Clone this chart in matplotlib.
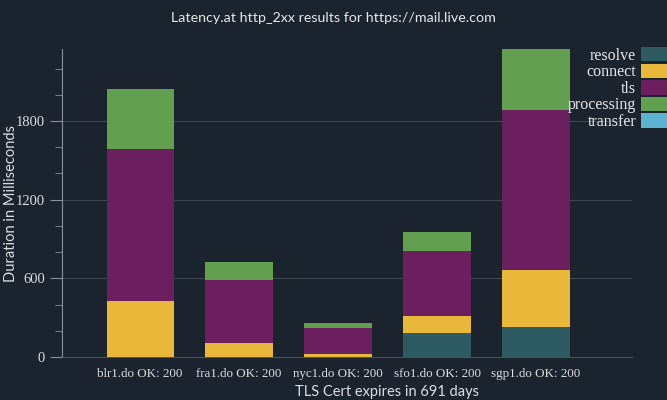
import matplotlib.pyplot as plt
from matplotlib.ticker import MultipleLocator

hosts = ["blr1.do OK: 200", "fra1.do OK: 200", "nyc1.do OK: 200",
         "sfo1.do OK: 200", "sgp1.do OK: 200"]
resolve = [0, 0, 0, 183, 229]
connect = [427, 107, 23, 130, 435]
tls = [1159, 480, 198, 495, 1220]
processing = [458, 138, 38, 145, 465]
transfer = [0, 0, 0, 0, 0]

phases = ["resolve", "connect", "tls", "processing", "transfer"]
series = [resolve, connect, tls, processing, transfer]
colors = ["#2e5a61", "#e9b83a", "#6b1f5e", "#62a050", "#5cb3d0"]

bg = "#1b232f"
fig = plt.figure(figsize=(6.67, 4), dpi=100, facecolor=bg)
ax = fig.add_axes([62 / 667, 43 / 400, 570 / 667, 308 / 400])
ax.set_facecolor(bg)

x = list(range(len(hosts)))
bottom = [0] * len(hosts)
handles = []
for name, vals, c in zip(phases, series, colors):
    b = ax.bar(x, vals, 0.68, bottom=bottom, color=c, label=name, zorder=3)
    handles.append(b)
    bottom = [p + q for p, q in zip(bottom, vals)]

ax.set_xlim(-0.79, 4.97)
ax.set_ylim(0, max(bottom))
ax.yaxis.set_major_locator(MultipleLocator(600))
ax.yaxis.set_minor_locator(MultipleLocator(200))
ax.grid(axis="y", color="#3e4650", linewidth=0.8, zorder=0)

for s in ["top", "right"]:
    ax.spines[s].set_visible(False)
ax.spines["left"].set_color("#8a9099")
ax.spines["bottom"].set_color("#4a525c")
ax.tick_params(axis="y", which="major", length=9, color="#8a9099", labelcolor="#dddddd")
ax.tick_params(axis="y", which="minor", length=5, color="#8a9099")
ax.tick_params(axis="x", length=0, labelcolor="#dddddd", pad=8)
ax.set_xticks(x)
ax.set_xticklabels(hosts, family="Liberation Serif", fontsize=9.4)
for lab in ax.get_yticklabels():
    lab.set_family("Liberation Serif")
    lab.set_fontsize(10.5)

ax.set_ylabel("Duration in Milliseconds", color="#dddddd", fontsize=10.5, family="Lato")
ax.yaxis.set_label_coords(-0.078, 0.5)
ax.set_xlabel("TLS Cert expires in 691 days", color="#dddddd", fontsize=10.5, family="Lato")
ax.xaxis.set_label_coords((387 - 62) / 570, -0.092)
fig.text(0.5, 0.955, "Latency.at http_2xx results for https://mail.live.com",
         ha="center", va="center", color="#e6e6e6", fontsize=10.3, family="Lato")

leg = ax.legend(handles=handles, loc="upper right", bbox_to_anchor=(681 / 667, 1 - 39 / 400),
                bbox_transform=fig.transFigure, frameon=False, markerfirst=False,
                borderpad=0, labelspacing=0.0, handlelength=2.0, handleheight=1.0,
                handletextpad=0.3, prop={"family": "Liberation Serif", "size": 11.5})
for t in leg.get_texts():
    t.set_color("#e6e6e6")

fig.savefig("out.png", facecolor=bg)
